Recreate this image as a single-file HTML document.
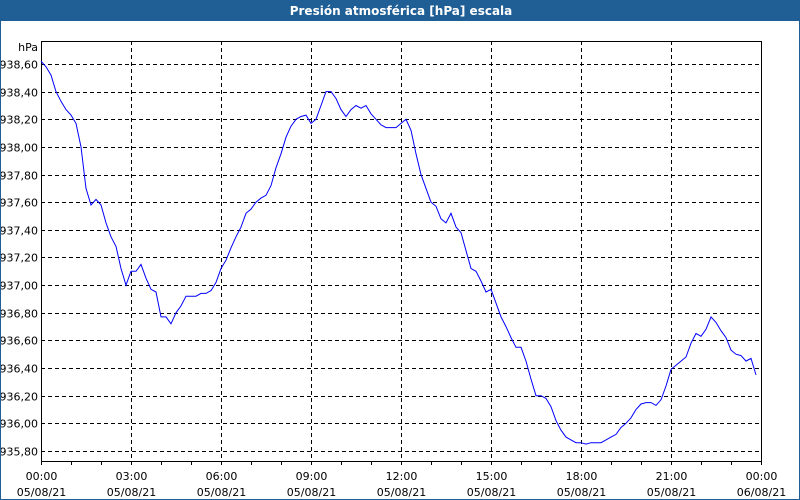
<!DOCTYPE html>
<html><head><meta charset="utf-8"><style>
body{margin:0;background:#fff;font-family:"DejaVu Sans","Liberation Sans",sans-serif;}
#wrap{position:relative;width:800px;height:500px;box-sizing:border-box;border:1px solid #1f5f96;background:#fff;overflow:hidden}
#title{position:absolute;left:0;top:0;width:800px;height:20px;background:#1f5f96;color:#fff;font-weight:bold;font-size:12px;text-align:center;line-height:20px}
svg text{font-family:"DejaVu Sans","Liberation Sans",sans-serif;font-size:11px;fill:#000}
</style></head><body>
<div id="wrap">
<div id="title">Presión atmosférica [hPa] escala</div>
<svg id="chart" width="800" height="500" style="position:absolute;left:0;top:0"></svg>
</div>
<script>
const yTicks=[938.6,938.4,938.2,938.0,937.8,937.6,937.4,937.2,937.0,936.8,936.6,936.4,936.2,936.0,935.8];
const xTickTimes=["00:00","03:00","06:00","09:00","12:00","15:00","18:00","21:00","00:00"];
const xTickDates=["05/08/21","05/08/21","05/08/21","05/08/21","05/08/21","05/08/21","05/08/21","05/08/21","06/08/21"];
// pressure values every 10 minutes starting 00:00
const pressure=[938.62,938.58,938.52,938.40,938.33,938.27,938.23,938.17,938.00,937.70,937.58,937.62,937.58,937.45,937.35,937.28,937.12,937.00,937.10,937.10,937.15,937.05,936.97,936.95,936.77,936.77,936.72,936.80,936.85,936.92,936.92,936.92,936.94,936.94,936.96,937.02,937.12,937.18,937.27,937.35,937.42,937.52,937.55,937.60,937.63,937.65,937.72,937.85,937.95,938.07,938.15,938.20,938.22,938.23,938.17,938.20,938.30,938.40,938.40,938.35,938.27,938.22,938.27,938.30,938.28,938.30,938.24,938.20,938.16,938.14,938.14,938.14,938.17,938.20,938.12,937.95,937.80,937.70,937.60,937.57,937.48,937.45,937.52,937.42,937.38,937.25,937.12,937.10,937.03,936.95,936.97,936.87,936.77,936.70,936.62,936.55,936.55,936.45,936.32,936.20,936.20,936.18,936.12,936.02,935.95,935.90,935.88,935.86,935.86,935.85,935.86,935.86,935.86,935.88,935.90,935.92,935.97,936.00,936.04,936.10,936.14,936.15,936.15,936.13,936.17,936.27,936.39,936.42,936.45,936.48,936.58,936.65,936.63,936.68,936.77,936.73,936.67,936.62,936.53,936.50,936.49,936.45,936.47,936.35];
const svg=document.getElementById('chart');const NS='http://www.w3.org/2000/svg';
const L=40,R=760,T=40,B=460;
const yS=v=>63+(938.6-v)/0.2*27.64;
const xS=h=>L+h/24*(R-L);
function mk(tag,attrs){const e=document.createElementNS(NS,tag);for(const k in attrs)e.setAttribute(k,attrs[k]);svg.appendChild(e);return e;}
yTicks.forEach((v,i)=>{const y=Math.round(yS(v))+0.5;
 const g=mk('line',{x1:L,x2:R,y1:y,y2:y,stroke:'#000','stroke-dasharray':'4,3'});
 
 
 const t=mk('text',{x:37,y:y+4,'text-anchor':'end'});t.textContent=v.toFixed(2).replace('.',',');
 
 
});
for(let h=0;h<=24;h++){const x=Math.round(xS(h))+0.5;
 const tk=mk('line',{x1:x,x2:x,y1:B,y2:B+4,stroke:'#000'});
 
 
}
xTickTimes.forEach((s,i)=>{const x=Math.round(xS(i*3))+0.5;
 if(i>0&&i<8){const g=mk('line',{x1:x,x2:x,y1:T,y2:B,stroke:'#000','stroke-dasharray':'4,3'});
 
 }
 const t1=mk('text',{x:x,y:479,'text-anchor':'middle'});t1.textContent=s;
 
 
 const t2=mk('text',{x:x,y:495,'text-anchor':'middle'});t2.textContent=xTickDates[i];
 
 
});
const ax=mk('rect',{x:L+0.5,y:T+0.5,width:R-L,height:B-T,fill:'none',stroke:'#000'});


const u=mk('text',{x:37,y:50,'text-anchor':'end'});u.textContent='hPa';


const pts=pressure.map((v,i)=>xS(i/6).toFixed(1)+','+yS(v).toFixed(1)).join(' ');
const ln=mk('polyline',{points:pts,fill:'none',stroke:'#0000ff','stroke-width':1});


</script>
</body></html>
